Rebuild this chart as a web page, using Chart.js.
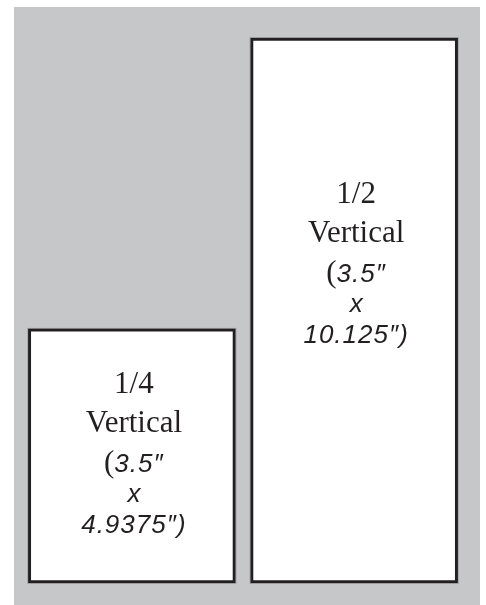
<!DOCTYPE html>
<html>
<head>
<meta charset="utf-8">
<script src="https://cdn.jsdelivr.net/npm/chart.js@4/dist/chart.umd.min.js"></script>
<style>
  body { margin: 0; background: #fff; }
  #wrap { position: absolute; left: 14px; top: 7px; width: 466px; height: 598px; background: #c6c7c9; }
</style>
</head>
<body>
<div id="wrap"><canvas id="myCanvas"></canvas></div>
<script>
// ad sizes, heights (drawn in "inch" units)
var categories = ['1/4 Vertical', '1/2 Vertical'];
var fractions = ['1/4', '1/2'];
var widthText = ['3.5\u2033', '3.5\u2033'];
var heightText = ['4.9375\u2033)', '10.125\u2033)'];
var boxHeights = [4.72, 10.125];

var serif = '"Liberation Serif", "DejaVu Serif", serif';
var sans = '"Liberation Sans", "DejaVu Sans", sans-serif';

// first text baseline, measured down from the top of each box
var firstLine = [64, 165];
var lineGaps = [0, 39, 79, 109, 140];

var labelPlugin = {
  id: 'boxLabels',
  beforeDatasetsDraw: function(chart) {
    var ctx = chart.ctx;
    var meta = chart.getDatasetMeta(0);
    ctx.save();
    ctx.strokeStyle = '#9a9b9e';
    ctx.lineWidth = 1;
    meta.data.forEach(function(bar) {
      var left = bar.x - bar.width / 2;
      ctx.strokeRect(left - 0.5, bar.y - 0.5, bar.width + 1, bar.base - bar.y + 1);
    });
    ctx.restore();
  },
  afterDatasetsDraw: function(chart) {
    var ctx = chart.ctx;
    var meta = chart.getDatasetMeta(0);
    ctx.save();
    ctx.fillStyle = '#231f20';
    ctx.textBaseline = 'alphabetic';
    meta.data.forEach(function(bar, i) {
      var lines = [
        [{ t: fractions[i], f: '31px ' + serif }],
        [{ t: 'Vertical', f: '31px ' + serif }],
        [{ t: '(', f: '31px ' + serif }, { t: widthText[i], f: 'italic 26px ' + sans, ls: '1px' }],
        [{ t: 'x', f: 'italic 26px ' + sans }],
        [{ t: heightText[i], f: 'italic 26px ' + sans, ls: '1px' }]
      ];
      lines.forEach(function(segs, j) {
        var total = 0;
        segs.forEach(function(s) {
          ctx.font = s.f;
          ctx.letterSpacing = s.ls || '0px';
          s.w = ctx.measureText(s.t).width;
          total += s.w;
        });
        var x = bar.x + 2 - total / 2;
        var y = bar.y + firstLine[i] + lineGaps[j];
        segs.forEach(function(s) {
          ctx.font = s.f;
          ctx.letterSpacing = s.ls || '0px';
          ctx.textAlign = 'left';
          ctx.fillText(s.t, x, y);
          x += s.w;
        });
      });
    });
    ctx.restore();
  }
};

var data = {
  labels: categories,
  datasets: [
    {
      label: 'Ad size',
      data: boxHeights,
      backgroundColor: '#ffffff',
      borderColor: '#231f20',
      borderWidth: 3,
      borderSkipped: false,
      barThickness: 207
    }
  ]
};

var options = {
  responsive: true,
  maintainAspectRatio: false,
  animation: false,
  layout: {
    padding: { left: 6.75, right: 14.75, top: 31, bottom: 22 }
  },
  scales: {
    x: { display: false },
    y: { display: false, min: 0, max: 10.125 }
  },
  plugins: {
    legend: { display: false },
    tooltip: { enabled: false }
  }
};

var chart = new Chart(document.getElementById('myCanvas'), {
  type: 'bar',
  data: data,
  options: options,
  plugins: [labelPlugin]
});
</script>
</body>
</html>
